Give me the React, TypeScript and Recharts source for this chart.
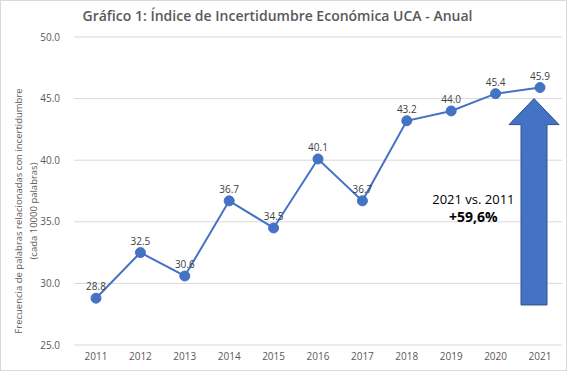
import { LineChart, Line, XAxis, YAxis, CartesianGrid, ReferenceArea, LabelList } from 'recharts';

const years = ['2011', '2012', '2013', '2014', '2015', '2016', '2017', '2018', '2019', '2020', '2021'];
const indexValues = [28.8, 32.5, 30.6, 36.7, 34.5, 40.1, 36.7, 43.2, 44.0, 45.4, 45.9];
const yTicks = [25, 30, 35, 40, 45, 50];

const chartData = years.map((year, i) => ({ year, value: indexValues[i] }));

const BLUE = '#4472C4';
const GRAY = '#595959';
const FONT = '"Open Sans", "Noto Sans", sans-serif';

// big arrow, placed between the 2020 and 2021 points (near the 2021 point)
function ArrowShape(props: any) {
  const { x, y, width, height } = props;
  const cx = x + width - 6;
  const headHalf = 25;
  const shaftHalf = 13;
  const headH = 26;
  const bottom = y + height;
  const d = `M ${cx} ${y} L ${cx + headHalf} ${y + headH} L ${cx + shaftHalf} ${y + headH} L ${cx + shaftHalf} ${bottom} L ${cx - shaftHalf} ${bottom} L ${cx - shaftHalf} ${y + headH} L ${cx - headHalf} ${y + headH} Z`;
  return <path d={d} fill={BLUE} stroke="#2F528F" strokeWidth={1} />;
}

function NoteShape(props: any) {
  const { x, y, width, height } = props;
  const cx = x + width / 2;
  const cy = y + height / 2;
  return (
    <g fontFamily={FONT}>
      <text x={cx} y={cy - 4} textAnchor="middle" fontSize={13} fill="#000">2021 vs. 2011</text>
      <text x={cx} y={cy + 14} textAnchor="middle" fontSize={14} fontWeight={700} fill="#000">+59,6%</text>
    </g>
  );
}

export default function App() {
  return (
    <div
      style={{
        position: 'fixed',
        left: 0,
        top: 0,
        width: 567,
        height: 371,
        boxSizing: 'border-box',
        border: '1px solid #d9d9d9',
        background: '#fff',
        fontFamily: FONT,
      }}
    >
      <div
        style={{
          position: 'absolute',
          top: 5,
          left: 14,
          width: 525,
          textAlign: 'center',
          fontSize: 14,
          fontWeight: 600,
          color: GRAY,
        }}
      >
        Gráfico 1: Índice de Incertidumbre Económica UCA - Anual
      </div>
      <LineChart
        width={565}
        height={369}
        data={chartData}
        margin={{ top: 36, right: 4, bottom: 0, left: 0 }}
      >
        <CartesianGrid vertical={false} stroke="#d9d9d9" />
        <XAxis
          dataKey="year"
          axisLine={false}
          tickLine={false}
          height={25}
          padding={{ left: 22, right: 22 }}
          tick={{ fill: GRAY, fontSize: 10, fontFamily: FONT }}
        />
        <YAxis
          domain={[25, 50]}
          ticks={yTicks}
          axisLine={false}
          tickLine={false}
          width={73}
          tickMargin={8}
          tickFormatter={(v: number) => v.toFixed(1)}
          tick={{ fill: GRAY, fontSize: 10, fontFamily: FONT }}
          label={(p: any) => {
            const vb = p.viewBox;
            const cy = vb.y + vb.height / 2 + 20;
            return (
              <g fontFamily={FONT} fontSize={9.5} fill={GRAY}>
                <text x={17} y={cy} transform={`rotate(-90 17 ${cy})`} textAnchor="middle" dominantBaseline="central" fill={GRAY}>
                  Frecuencia de palabras relacionadas con incertidumbre
                </text>
                <text x={32} y={cy} transform={`rotate(-90 32 ${cy})`} textAnchor="middle" dominantBaseline="central" fill={GRAY}>
                  (cada 10000 palabras)
                </text>
              </g>
            );
          }}
        />
        <ReferenceArea x1="2020" x2="2021" y1={28.25} y2={45.0} shape={ArrowShape} ifOverflow="visible" />
        <ReferenceArea x1="2019" x2="2020" y1={34} y2={38.2} shape={NoteShape} ifOverflow="visible" />
        <Line
          type="linear"
          dataKey="value"
          stroke={BLUE}
          strokeWidth={2}
          dot={{ r: 5, fill: BLUE, stroke: BLUE, strokeWidth: 1 }}
          isAnimationActive={false}
        >
          <LabelList
            dataKey="value"
            position="top"
            offset={8}
            formatter={(v: any) => Number(v).toFixed(1)}
            style={{ fill: '#404040', fontSize: 10, fontFamily: FONT }}
          />
        </Line>
      </LineChart>
    </div>
  );
}
